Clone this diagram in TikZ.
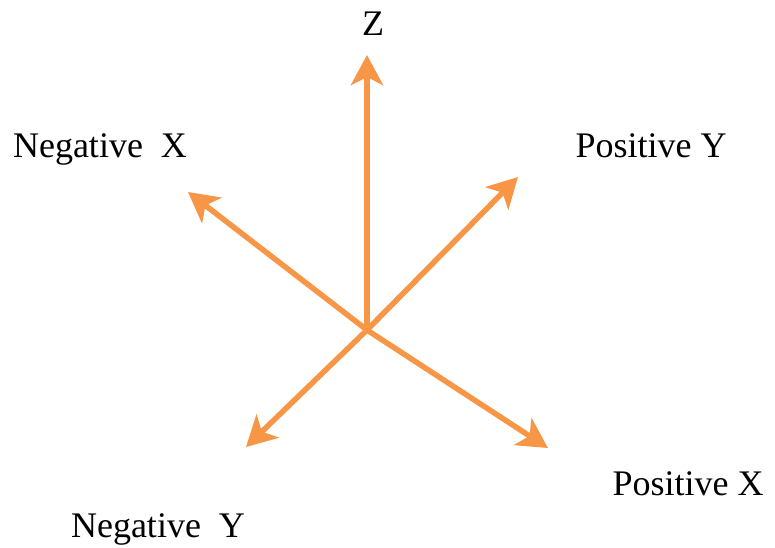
\documentclass[tikz,border=0pt]{standalone}
\usepackage{fontspec}
\setmainfont{Liberation Serif}
\usetikzlibrary{arrows.meta}
\definecolor{axisorange}{HTML}{F79646}
\begin{document}
\begin{tikzpicture}[x=1pt,y=-1pt,
    font=\fontsize{36}{40}\selectfont,inner sep=0pt,
    axis/.style={draw=axisorange,line width=5.5pt,
      -{Stealth[length=30pt,width=32pt,inset=8pt]}},
    lbl/.style={anchor=base}]
    \path[use as bounding box] (0,0) rectangle (775,547);
    \coordinate (o) at (367,330);
    \coordinate (zt) at (367,55);
    \coordinate (nxt) at (188,192);
    \coordinate (pyt) at (518,177);
    \coordinate (pxt) at (548,448);
    \coordinate (nyt) at (246,447);
    \draw[axis] (o) -- (zt);
    \draw[axis] (o) -- (nxt);
    \draw[axis] (o) -- (pyt);
    \draw[axis] (o) -- (pxt);
    \draw[axis] (o) -- (nyt);
    \node[lbl] (z) at (373,35) {Z};
    \node[lbl] (nx) at (100,157) {Negative\ \ X};
    \node[lbl] (py) at (651,157) {Positive Y};
    \node[lbl] (px) at (688,495) {Positive X};
    \node[lbl] (ny) at (158,537) {Negative\ \ Y};
\end{tikzpicture}
\end{document}
